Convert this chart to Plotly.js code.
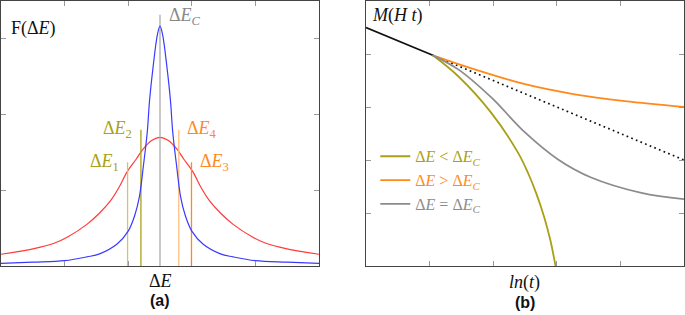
<!DOCTYPE html>
<html><head><meta charset="utf-8">
<script src="https://cdn.plot.ly/plotly-3.0.1.min.js"></script>
<style>html,body{margin:0;padding:0;background:#fff}#c{width:685px;height:315px}</style>
</head><body><div id="c"></div>
<script>
// ---- Panel (a): distributions F(ΔE) ----
const redX  = [-5, -3.96, -3.33, -2.92, -2.3, -1.9, -1.56, -1.3, -1.04, -0.75, -0.52, -0.25, 0, 0.25, 0.52, 0.75, 1.04, 1.3, 1.56, 1.9, 2.3, 2.92, 3.33, 3.96, 5];
const redY  = [0.155, 0.23, 0.30, 0.38, 0.55, 0.70, 0.86, 1.03, 1.24, 1.41, 1.55, 1.66, 1.70, 1.66, 1.55, 1.41, 1.24, 1.03, 0.86, 0.70, 0.55, 0.38, 0.30, 0.23, 0.155];
const blueX = [-5, -4, -3, -2.3, -1.9, -1.35, -1.0, -0.8, -0.65, -0.52, -0.40, -0.33, -0.22, -0.08, 0, 0.08, 0.22, 0.33, 0.40, 0.52, 0.65, 0.8, 1.0, 1.35, 1.9, 2.3, 3, 4, 5];
const blueY = [0.035, 0.05, 0.07, 0.12, 0.16, 0.29, 0.46, 0.66, 0.91, 1.33, 1.77, 2.18, 2.62, 3.06, 3.17, 3.06, 2.62, 2.18, 1.77, 1.33, 0.91, 0.66, 0.46, 0.29, 0.16, 0.12, 0.07, 0.05, 0.035];
const markerLabels = ['Δ<i>E</i><sub>1</sub>', 'Δ<i>E</i><sub>2</sub>', 'Δ<i>E</i><sub><i>C</i></sub>', 'Δ<i>E</i><sub>4</sub>', 'Δ<i>E</i><sub>3</sub>'];
const markerX   = [-1.02, -0.60, 0, 0.59, 0.99];
const markerTop = [1.37, 1.80, 3.32, 1.80, 1.37];
const markerColors = ['#cbc577', '#aaa015', '#aaaaaa', '#ffbf80', '#ff8a1c'];
const markerTextColors = ['#aaa015', '#aaa015', '#888888', '#ff8a1c', '#ff8a1c'];

// ---- Panel (b): relaxation M(H t) vs ln(t) ----
const blackX = [0, 1.05];
const blackY = [4.5, 3.975];
const dotX = [1.05, 5];
const dotY = [3.975, 2.0];
const lowX  = [1.05, 1.45, 1.97, 2.39, 2.55, 2.68, 2.80, 2.90, 2.98];
const lowY  = [3.975, 3.58, 2.89, 2.14, 1.75, 1.36, 0.93, 0.48, 0.0];
const highX = [1.05, 1.71, 2.50, 3.28, 4.07, 5.0];
const highY = [3.975, 3.71, 3.43, 3.24, 3.11, 3.0];
const critX = [1.05, 1.45, 1.97, 2.50, 3.02, 3.54, 4.33, 5.0];
const critY = [3.975, 3.71, 3.18, 2.52, 2.01, 1.67, 1.38, 1.26];
const legendNames = ['Δ<i>E</i> &lt; Δ<i>E</i><sub><i>C</i></sub>', 'Δ<i>E</i> &gt; Δ<i>E</i><sub><i>C</i></sub>', 'Δ<i>E</i> = Δ<i>E</i><sub><i>C</i></sub>'];
const legendColors = ['#aaa015', '#ff8a1c', '#8c8c8c'];

const SERIF = "'Liberation Serif', 'Times New Roman', serif";
const SANS = "'Liberation Sans', Arial, sans-serif";
const traces = [];
traces.push({x: redX, y: redY, xaxis: 'x', yaxis: 'y', mode: 'lines', line: {color: '#ff3b3b', width: 1.2, shape: 'spline', smoothing: 1}, showlegend: false, hoverinfo: 'skip'});
markerX.forEach((mx, i) => {
  traces.push({x: [mx, mx], y: [0, markerTop[i]], xaxis: 'x', yaxis: 'y', mode: 'lines', line: {color: markerColors[i], width: 1.3}, showlegend: false, hoverinfo: 'skip'});
});
traces.push({x: blueX, y: blueY, xaxis: 'x', yaxis: 'y', mode: 'lines', line: {color: '#3a3aff', width: 1.2, shape: 'spline', smoothing: 1}, showlegend: false, hoverinfo: 'skip'});

traces.push({x: blackX, y: blackY, xaxis: 'x2', yaxis: 'y2', mode: 'lines', line: {color: '#111', width: 1.7}, showlegend: false});
traces.push({x: dotX, y: dotY, xaxis: 'x2', yaxis: 'y2', mode: 'lines', line: {color: '#111', width: 1.7, dash: '1.7px,3.3px'}, showlegend: false});
const bData = [[lowX, lowY], [highX, highY], [critX, critY]];
bData.forEach((d, i) => {
  traces.push({x: d[0], y: d[1], xaxis: 'x2', yaxis: 'y2', mode: 'lines',
    name: '<span style="color:' + legendColors[i] + '">' + legendNames[i] + '</span>',
    line: {color: legendColors[i], width: 1.8, shape: 'spline'}, showlegend: true});
});

const axBase = {showgrid: false, zeroline: false, showticklabels: false, ticks: 'inside', ticklen: 5,
  tickcolor: '#999', showline: true, linecolor: '#444', linewidth: 1, mirror: 'ticks', fixedrange: true};

const annotations = [];
markerLabels.forEach((t, i) => {
  const right = markerX[i] < 0;
  let ax = markerX[i] + (right ? -0.22 : 0.2);
  let ay = markerTop[i];
  if (i === 2) { ax = 0.22; ay = 3.30; }
  annotations.push({x: ax, y: ay, xref: 'x', yref: 'y', text: t, showarrow: false,
    xanchor: right ? 'right' : 'left', yanchor: 'middle', font: {family: SERIF, size: 18, color: markerTextColors[i]}});
});
annotations.push({x: -4.75, y: 3.14, xref: 'x', yref: 'y', text: 'F(Δ<i>E</i>)', showarrow: false, xanchor: 'left', yanchor: 'middle', font: {family: SERIF, size: 18, color: '#111'}});
annotations.push({x: 0, y: -0.055, xref: 'x', yref: 'paper', text: 'Δ<i>E</i>', showarrow: false, xanchor: 'center', yanchor: 'middle', font: {family: SERIF, size: 18, color: '#111'}});
annotations.push({x: 0, y: -0.13, xref: 'x', yref: 'paper', text: '<b>(a)</b>', showarrow: false, xanchor: 'center', yanchor: 'middle', font: {family: SANS, size: 16, color: '#111'}});
annotations.push({x: 0.06, y: 4.72, xref: 'x2', yref: 'y2', text: '<i>M</i>(<i>H t</i>)', showarrow: false, xanchor: 'left', yanchor: 'middle', font: {family: SERIF, size: 18, color: '#111'}});
annotations.push({x: 2.5, y: -0.062, xref: 'x2', yref: 'paper', text: '<i>ln</i>(<i>t</i>)', showarrow: false, xanchor: 'center', yanchor: 'middle', font: {family: SERIF, size: 18, color: '#111'}});
annotations.push({x: 2.5, y: -0.137, xref: 'x2', yref: 'paper', text: '<b>(b)</b>', showarrow: false, xanchor: 'center', yanchor: 'middle', font: {family: SANS, size: 16, color: '#111'}});

const layout = {
  width: 685, height: 315, margin: {l: 1, r: 1, t: 1, b: 49},
  paper_bgcolor: '#fff', plot_bgcolor: '#fff',
  font: {family: SERIF},
  xaxis: Object.assign({}, axBase, {domain: [0, 0.4656], range: [-5, 5], tickvals: [-3, -1, 1, 3]}),
  yaxis: Object.assign({}, axBase, {range: [0, 3.5], tickvals: [1, 2, 3]}),
  xaxis2: Object.assign({}, axBase, {domain: [0.5344, 1], range: [0, 5], tickvals: [1, 2, 3, 4], anchor: 'y2'}),
  yaxis2: Object.assign({}, axBase, {range: [0, 5], tickvals: [1, 2, 3, 4], anchor: 'x2'}),
  showlegend: true,
  legend: {x: 0.548, y: 0.478, xanchor: 'left', yanchor: 'top', bgcolor: 'rgba(0,0,0,0)', borderwidth: 0,
    font: {family: SERIF, size: 16}, itemwidth: 30, tracegroupgap: 0},
  annotations: annotations
};
Plotly.newPlot('c', traces, layout, {displayModeBar: false, staticPlot: true});
</script></body></html>
